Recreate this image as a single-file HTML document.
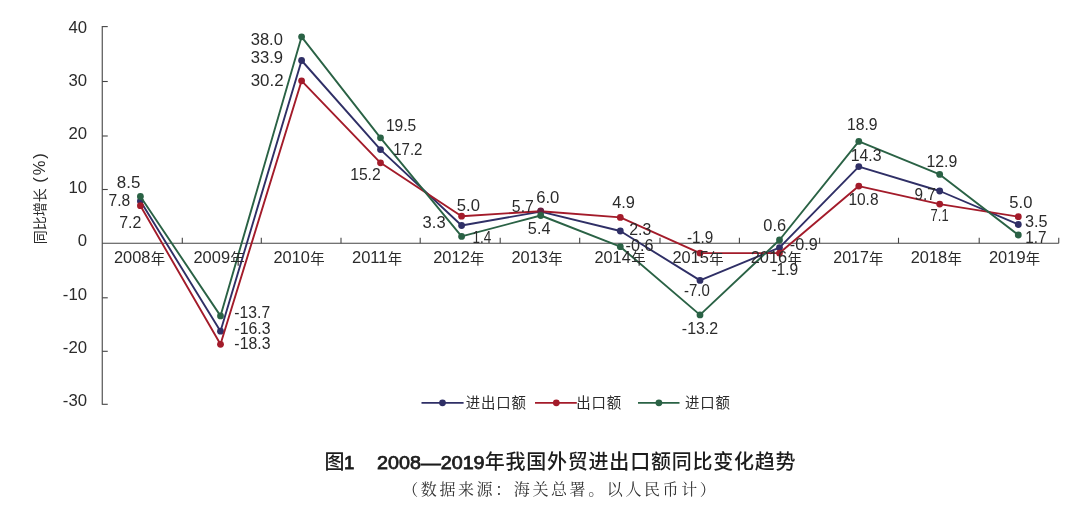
<!DOCTYPE html>
<html lang="zh-CN"><head><meta charset="utf-8"><title>图1 2008—2019年我国外贸进出口额同比变化趋势</title>
<style>
html,body{margin:0;padding:0;background:#fff;}
body{width:1080px;height:514px;overflow:hidden;}
svg{display:block;}
text{font-family:"Liberation Sans","Noto Sans CJK SC",sans-serif;fill:#2b2b2b;}
.t{font-size:16.5px;}
.ttl{font-family:"Liberation Sans","Noto Sans CJK SC",sans-serif;font-weight:500;font-size:20px;fill:#1c1c1c;}
.dg{font-weight:normal;font-size:18.6px;stroke:#1c1c1c;stroke-width:0.75px;}
.sub{font-family:"Liberation Serif","Noto Serif CJK SC",serif;font-size:16px;fill:#333;letter-spacing:2.6px;}
</style></head><body>
<svg width="1080" height="514" viewBox="0 0 1080 514">
<rect width="1080" height="514" fill="#fff"/>
<g stroke="#444" stroke-width="1.1" fill="none"><path d="M102.25 26.10 V404.80"/><path d="M102.25 243.25 H1058.75"/><path d="M102.25 26.60 h5.5"/><path d="M102.25 81.50 h5.5"/><path d="M102.25 136.00 h5.5"/><path d="M102.25 189.50 h5.5"/><path d="M102.25 297.80 h5.5"/><path d="M102.25 351.30 h5.5"/><path d="M102.25 404.30 h5.5"/><path d="M182.30 243.25 v-5.5"/><path d="M261.30 243.25 v-5.5"/><path d="M341.00 243.25 v-5.5"/><path d="M420.20 243.25 v-5.5"/><path d="M500.20 243.25 v-5.5"/><path d="M579.70 243.25 v-5.5"/><path d="M660.00 243.25 v-5.5"/><path d="M739.40 243.25 v-5.5"/><path d="M819.60 243.25 v-5.5"/><path d="M898.50 243.25 v-5.5"/><path d="M979.20 243.25 v-5.5"/><path d="M1058.75 243.25 v-5.5"/></g>
<text text-anchor="end" transform="translate(87,32.6) scale(1.06,1)" style="font-size:15.8px">40</text><text text-anchor="end" transform="translate(87,86.0) scale(1.06,1)" style="font-size:15.8px">30</text><text text-anchor="end" transform="translate(87,139.4) scale(1.06,1)" style="font-size:15.8px">20</text><text text-anchor="end" transform="translate(87,192.8) scale(1.06,1)" style="font-size:15.8px">10</text><text text-anchor="end" transform="translate(87,246.2) scale(1.06,1)" style="font-size:15.8px">0</text><text text-anchor="end" transform="translate(87,299.6) scale(1.06,1)" style="font-size:15.8px">-10</text><text text-anchor="end" transform="translate(87,353.0) scale(1.06,1)" style="font-size:15.8px">-20</text><text text-anchor="end" transform="translate(87,406.4) scale(1.06,1)" style="font-size:15.8px">-30</text>
<text transform="translate(44.9,244.3) rotate(-90)" style="font-size:14px"><tspan x="0" y="0">同比增长</tspan><tspan x="61.5" y="0" style="font-size:16.5px;letter-spacing:2px">(%)</tspan></text>
<polyline fill="none" stroke="#2f2f66" stroke-width="1.9" stroke-linejoin="round" points="140.40,201.10 220.50,331.20 301.60,60.50 380.50,149.60 461.60,225.50 540.70,211.60 620.30,231.00 700.00,280.40 779.50,247.60 858.80,166.60 939.70,191.00 1018.30,224.50"/><circle cx="140.40" cy="201.10" r="3.4" fill="#2f2f66"/><circle cx="220.50" cy="331.20" r="3.4" fill="#2f2f66"/><circle cx="301.60" cy="60.50" r="3.4" fill="#2f2f66"/><circle cx="380.50" cy="149.60" r="3.4" fill="#2f2f66"/><circle cx="461.60" cy="225.50" r="3.4" fill="#2f2f66"/><circle cx="540.70" cy="211.60" r="3.4" fill="#2f2f66"/><circle cx="620.30" cy="231.00" r="3.4" fill="#2f2f66"/><circle cx="700.00" cy="280.40" r="3.4" fill="#2f2f66"/><circle cx="779.50" cy="247.60" r="3.4" fill="#2f2f66"/><circle cx="858.80" cy="166.60" r="3.4" fill="#2f2f66"/><circle cx="939.70" cy="191.00" r="3.4" fill="#2f2f66"/><circle cx="1018.30" cy="224.50" r="3.4" fill="#2f2f66"/>
<polyline fill="none" stroke="#a31b2a" stroke-width="1.9" stroke-linejoin="round" points="140.40,205.70 220.50,344.30 301.60,80.80 380.50,162.80 461.60,216.20 540.70,211.20 620.30,217.40 700.00,253.10 779.50,253.10 858.80,186.10 939.70,204.10 1018.30,216.70"/><circle cx="140.40" cy="205.70" r="3.4" fill="#a31b2a"/><circle cx="220.50" cy="344.30" r="3.4" fill="#a31b2a"/><circle cx="301.60" cy="80.80" r="3.4" fill="#a31b2a"/><circle cx="380.50" cy="162.80" r="3.4" fill="#a31b2a"/><circle cx="461.60" cy="216.20" r="3.4" fill="#a31b2a"/><circle cx="540.70" cy="211.00" r="3.4" fill="#6a2040"/><circle cx="620.30" cy="217.40" r="3.4" fill="#a31b2a"/><circle cx="700.00" cy="253.10" r="3.4" fill="#a31b2a"/><circle cx="779.50" cy="253.10" r="3.4" fill="#a31b2a"/><circle cx="858.80" cy="186.10" r="3.4" fill="#a31b2a"/><circle cx="939.70" cy="204.10" r="3.4" fill="#a31b2a"/><circle cx="1018.30" cy="216.70" r="3.4" fill="#a31b2a"/>
<polyline fill="none" stroke="#2a6245" stroke-width="1.9" stroke-linejoin="round" points="140.40,196.50 220.50,315.90 301.60,36.80 380.50,137.80 461.60,236.40 540.70,215.50 620.30,246.70 700.00,314.90 779.50,240.00 858.80,141.40 939.70,174.40 1018.30,235.00"/><circle cx="140.40" cy="196.50" r="3.4" fill="#2a6245"/><circle cx="220.50" cy="315.90" r="3.4" fill="#2a6245"/><circle cx="301.60" cy="36.80" r="3.4" fill="#2a6245"/><circle cx="380.50" cy="137.80" r="3.4" fill="#2a6245"/><circle cx="461.60" cy="236.40" r="3.4" fill="#2a6245"/><circle cx="540.70" cy="215.50" r="3.4" fill="#2a6245"/><circle cx="620.30" cy="246.70" r="3.4" fill="#2a6245"/><circle cx="700.00" cy="314.90" r="3.4" fill="#2a6245"/><circle cx="779.50" cy="240.00" r="3.4" fill="#2a6245"/><circle cx="858.80" cy="141.40" r="3.4" fill="#2a6245"/><circle cx="939.70" cy="174.40" r="3.4" fill="#2a6245"/><circle cx="1018.30" cy="235.00" r="3.4" fill="#2a6245"/>
<text transform="translate(113.98,263.3) scale(1.036,1)" style="font-size:15.8px">2008</text><text x="150.72" y="263.8" style="font-size:14.4px">年</text><text transform="translate(193.48,263.3) scale(1.041,1)" style="font-size:15.8px">2009</text><text x="230.22" y="263.8" style="font-size:14.4px">年</text><text transform="translate(273.48,263.3) scale(1.036,1)" style="font-size:15.8px">2010</text><text x="310.22" y="263.8" style="font-size:14.4px">年</text><text transform="translate(351.97,263.3) scale(1.048,1)" style="font-size:15.8px">2011</text><text x="387.72" y="263.8" style="font-size:14.4px">年</text><text transform="translate(433.23,263.3) scale(1.041,1)" style="font-size:15.8px">2012</text><text x="469.97" y="263.8" style="font-size:14.4px">年</text><text transform="translate(511.48,263.3) scale(1.036,1)" style="font-size:15.8px">2013</text><text x="548.22" y="263.8" style="font-size:14.4px">年</text><text transform="translate(594.49,263.3) scale(1.031,1)" style="font-size:15.8px">2014</text><text x="631.22" y="263.8" style="font-size:14.4px">年</text><text transform="translate(672.48,263.3) scale(1.036,1)" style="font-size:15.8px">2015</text><text x="709.22" y="263.8" style="font-size:14.4px">年</text><text transform="translate(750.73,263.3) scale(1.036,1)" style="font-size:15.8px">2016</text><text x="787.47" y="263.8" style="font-size:14.4px">年</text><text transform="translate(833.25,263.3) scale(1.011,1)" style="font-size:15.8px">2017</text><text x="868.97" y="263.8" style="font-size:14.4px">年</text><text transform="translate(910.73,263.3) scale(1.036,1)" style="font-size:15.8px">2018</text><text x="947.47" y="263.8" style="font-size:14.4px">年</text><text transform="translate(988.98,263.3) scale(1.041,1)" style="font-size:15.8px">2019</text><text x="1025.72" y="263.8" style="font-size:14.4px">年</text>
<text transform="translate(116.82,187.6) scale(1.072,1)" style="font-size:15.8px">8.5</text><text transform="translate(108.62,205.6) scale(0.988,1)" style="font-size:15.8px">7.8</text><text transform="translate(119.20,227.8) scale(1.008,1)" style="font-size:15.8px">7.2</text><text transform="translate(234.37,318.4) scale(0.993,1)" style="font-size:15.8px">-13.7</text><text transform="translate(234.37,333.6) scale(1.003,1)" style="font-size:15.8px">-16.3</text><text transform="translate(234.37,348.7) scale(1.003,1)" style="font-size:15.8px">-18.3</text><text transform="translate(250.70,44.6) scale(1.047,1)" style="font-size:15.8px">38.0</text><text transform="translate(250.70,63.1) scale(1.053,1)" style="font-size:15.8px">33.9</text><text transform="translate(250.69,85.9) scale(1.069,1)" style="font-size:15.8px">30.2</text><text transform="translate(385.91,131.2) scale(0.989,1)" style="font-size:15.8px">19.5</text><text transform="translate(393.20,154.5) scale(0.951,1)" style="font-size:15.8px">17.2</text><text transform="translate(350.15,179.5) scale(0.994,1)" style="font-size:15.8px">15.2</text><text transform="translate(456.83,210.5) scale(1.055,1)" style="font-size:15.8px">5.0</text><text transform="translate(422.60,227.5) scale(1.047,1)" style="font-size:15.8px">3.3</text><text transform="translate(472.55,243.1) scale(0.856,1)" style="font-size:15.8px">1.4</text><text transform="translate(511.87,212.2) scale(1.000,1)" style="font-size:15.8px">5.7</text><text transform="translate(536.17,202.5) scale(1.056,1)" style="font-size:15.8px">6.0</text><text transform="translate(527.85,234.4) scale(1.028,1)" style="font-size:15.8px">5.4</text><text transform="translate(612.17,208.0) scale(1.040,1)" style="font-size:15.8px">4.9</text><text transform="translate(629.20,235.0) scale(1.007,1)" style="font-size:15.8px">2.3</text><text transform="translate(625.60,250.5) scale(1.028,1)" style="font-size:15.8px">-0.6</text><text transform="translate(686.89,242.5) scale(0.967,1)" style="font-size:15.8px">-1.9</text><text transform="translate(683.90,296.2) scale(0.951,1)" style="font-size:15.8px">-7.0</text><text transform="translate(681.86,333.5) scale(1.010,1)" style="font-size:15.8px">-13.2</text><text transform="translate(763.26,230.5) scale(1.040,1)" style="font-size:15.8px">0.6</text><text transform="translate(789.85,250.0) scale(1.025,1)" style="font-size:15.8px">-0.9</text><text transform="translate(771.38,275.0) scale(0.986,1)" style="font-size:15.8px">-1.9</text><text transform="translate(847.00,129.7) scale(0.996,1)" style="font-size:15.8px">18.9</text><text transform="translate(850.79,161.2) scale(1.001,1)" style="font-size:15.8px">14.3</text><text transform="translate(848.42,205.0) scale(0.980,1)" style="font-size:15.8px">10.8</text><text transform="translate(926.39,167.0) scale(1.003,1)" style="font-size:15.8px">12.9</text><text transform="translate(914.39,199.5) scale(0.971,1)" style="font-size:15.8px">9.7</text><text transform="translate(930.60,220.7) scale(0.819,1)" style="font-size:15.8px">7.1</text><text transform="translate(1009.34,208.0) scale(1.048,1)" style="font-size:15.8px">5.0</text><text transform="translate(1025.01,227.0) scale(1.028,1)" style="font-size:15.8px">3.5</text><text transform="translate(1025.18,243.0) scale(0.969,1)" style="font-size:15.8px">1.7</text>
<path d="M421.5 402.8 H463.6" stroke="#2f2f66" stroke-width="1.8"/><circle cx="442.5" cy="402.8" r="3.4" fill="#2f2f66"/><text style="font-size:14.4px;letter-spacing:0.85px" x="465.8" y="407.9">进出口额</text>
<path d="M535.0 402.8 H576.8" stroke="#a31b2a" stroke-width="1.8"/><circle cx="556.3" cy="402.8" r="3.4" fill="#a31b2a"/><text style="font-size:14.4px;letter-spacing:0.85px" x="576.2" y="407.9">出口额</text>
<path d="M638.0 402.8 H679.5" stroke="#2a6245" stroke-width="1.8"/><circle cx="658.9" cy="402.8" r="3.4" fill="#2a6245"/><text style="font-size:14.4px;letter-spacing:0.85px" x="685.0" y="407.9">进口额</text>
<text class="ttl" x="324.5" y="469.3">图<tspan class="dg" dx="-0.5">1</tspan></text><text class="ttl dg" x="377" y="469.3" textLength="107.6" lengthAdjust="spacingAndGlyphs">2008—2019</text><text class="ttl" x="484.7" y="469.3" style="letter-spacing:0.78px">年我国外贸进出口额同比变化趋势</text>
<text class="sub" x="402.2" y="494.5">（数据来源：海关总署。以人民币计）</text>
</svg>
</body></html>
